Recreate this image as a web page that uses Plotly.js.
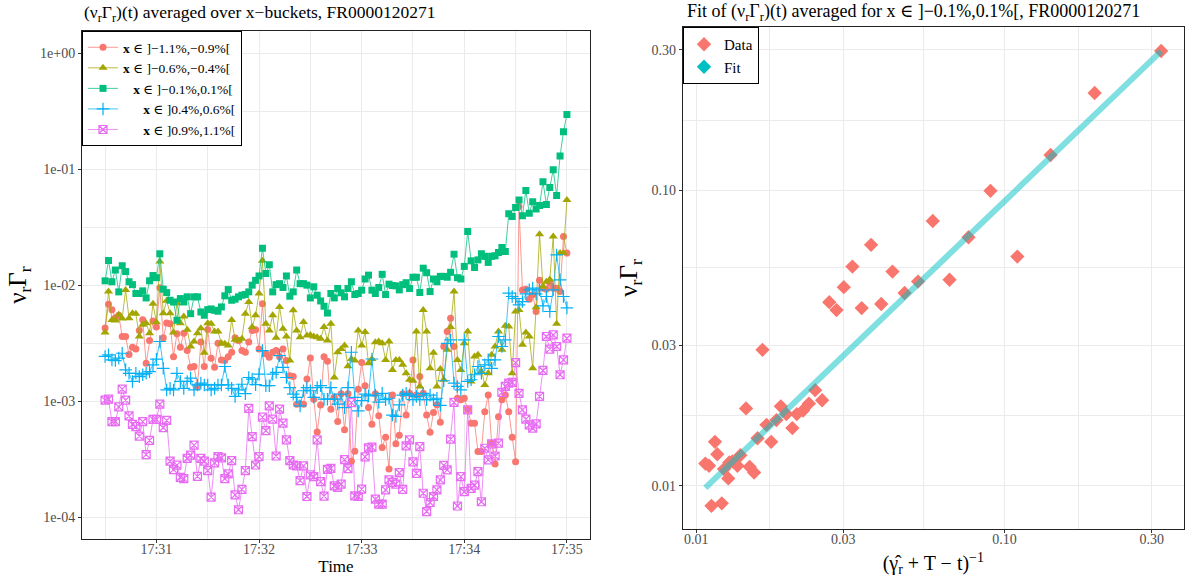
<!DOCTYPE html>
<html><head><meta charset="utf-8">
<script src="https://cdn.plot.ly/plotly-3.0.1.min.js"></script>
<style>html,body{margin:0;padding:0;background:#fff}#chart{width:1188px;height:583px}</style>
</head><body><div id="chart"></div>
<script>
// ---------- time axis (left panel): one sample every 2 s from 17:30:30 ----------
const dayStr = '2024-01-01';
const startTime = '17:30:30';
const stepSeconds = 2;
const nSamples = 136;

// ---------- left panel series (nu_r * Gamma_r) ----------
const seriesNames = ['x ∈ ]−1.1%,−0.9%[', 'x ∈ ]−0.6%,−0.4%[', 'x ∈ ]−0.1%,0.1%[', 'x ∈ ]0.4%,0.6%[', 'x ∈ ]0.9%,1.1%['];

const redVals = [0.00427,0.00684,0.00615,0.00525,0.00550,0.00361,0.00361,0.00252,0.00292,0.00282,
0.00407,0.00504,0.00212,0.00334,0.00491,0.00435,0.00948,0.00352,0.00471,0.00465,
0.00242,0.00381,0.00292,0.00386,0.00273,0.00196,0.00199,0.00133,0.00323,0.00199,
0.00415,0.00234,0.00196,0.00316,0.00226,0.00224,0.00242,0.00264,0.00352,0.00334,
0.00273,0.00264,0.00323,0.00407,0.00413,0.00282,0.00693,0.00256,0.00239,0.00264,
0.00273,0.00242,0.00282,0.00224,0.00166,0.00163,0.000942,0.000953,0.000942,0.00155,
0.00236,0.00104,0.000542,0.000929,0.00242,0.00221,0.000853,0.00108,0.000667,0.00116,
0.000568,0.00116,0.000304,0.000371,0.00127,0.00216,0.00136,0.000881,0.000632,0.00116,
0.00075,0.00040,0.00049,0.00026,0.00113,0.00043,0.00051,0.00116,0.00076,0.00117,
0.00227,0.00113,0.00163,0.00117,0.00076,0.00054,0.00080,0.00093,0.00066,0.00296,
0.00398,0.00519,0.00296,0.00106,0.00103,0.00106,0.00085,0.000646,0.000646,0.000368,
0.000368,0.000813,0.00113,0.000435,0.000288,0.000736,0.00103,0.00113,0.000813,0.000490,
0.000301,0.0476,0.00910,0.00923,0.00757,0.00825,0.00593,0.0110,0.00942,0.00923,
0.0104,0.00942,0.00942,0.00881,0.0262,0.0189];

const oliveVals = [0.00391,0.00881,0.00502,0.00496,0.00555,0.00516,0.00910,0.00519,0.00573,0.00566,
0.00361,0.00455,0.00470,0.00385,0.00690,0.00480,0.0160,0.00573,0.00733,0.00573,
0.00391,0.00700,0.00470,0.00537,0.00412,0.00296,0.00327,0.00385,0.00426,0.00262,
0.00470,0.00464,0.00398,0.00398,0.00316,0.00312,0.00302,0.00502,0.00338,0.00333,
0.00345,0.00567,0.00716,0.00435,0.00550,0.00847,0.0162,0.00465,0.00407,0.00550,
0.00352,0.00649,0.00421,0.00361,0.00224,0.00607,0.00407,0.00356,0.00481,0.00368,
0.00372,0.00361,0.00356,0.00345,0.00435,0.00334,0.00465,0.00160,0.00264,0.00282,
0.00302,0.00200,0.00231,0.00224,0.00407,0.00302,0.00394,0.00212,0.00231,0.00322,
0.00327,0.00316,0.00227,0.00327,0.00186,0.00227,0.00227,0.00206,0.00174,0.00153,
0.00150,0.00398,0.00134,0.00612,0.00398,0.00192,0.00262,0.00134,0.00189,0.00153,
0.00277,0.00435,0.00881,0.00227,0.00186,0.00316,0.00398,0.00148,0.00243,0.00251,
0.00180,0.00138,0.00174,0.00251,0.00296,0.00398,0.00277,0.00446,0.00440,0.00174,
0.00593,0.00612,0.00306,0.00391,0.00361,0.00192,0.00646,0.0275,0.00973,0.0107,
0.0112,0.0262,0.00464,0.0189,0.0189,0.0543];

const greenVals = [0.0109,0.0163,0.0107,0.0135,0.00875,0.0147,0.0131,0.0107,0.0101,0.00847,
0.00847,0.00893,0.00776,0.0109,0.0121,0.0116,0.0186,0.00923,0.00863,0.00741,
0.00716,0.00498,0.00766,0.00716,0.00793,0.00568,0.00793,0.00793,0.00587,0.00550,
0.00615,0.00624,0.00607,0.00596,0.00649,0.00809,0.00916,0.00741,0.00757,0.00793,
0.00819,0.00830,0.00875,0.0100,0.0110,0.0120,0.0208,0.0126,0.0150,0.00875,
0.0101,0.0103,0.00955,0.0120,0.00803,0.00875,0.0135,0.0103,0.0103,0.0100,
0.00776,0.00968,0.00819,0.00731,0.00658,0.00575,0.00847,0.00776,0.00936,0.00859,
0.00793,0.00936,0.0107,0.00830,0.00847,0.00905,0.0113,0.0122,0.00905,0.00847,
0.00955,0.0124,0.00830,0.0102,0.00993,0.00986,0.00910,0.0101,0.0105,0.00935,
0.0117,0.0117,0.00864,0.0140,0.0128,0.00881,0.0113,0.0107,0.0119,0.0119,
0.0117,0.0129,0.0185,0.0116,0.0113,0.0145,0.0290,0.0162,0.0142,0.0165,
0.0186,0.0177,0.0157,0.0177,0.0179,0.0191,0.0211,0.0195,0.0412,0.0391,
0.0467,0.0543,0.0396,0.0655,0.0417,0.0522,0.0452,0.0486,0.0778,0.0496,
0.0695,0.0986,0.0593,0.130,0.210,0.296];

const blueVals = [0.00243,0.00251,0.00227,0.00224,0.00235,0.00259,0.00186,0.00174,0.00148,0.00174,
0.00163,0.00169,0.00174,0.00180,0.00206,0.00230,0.00327,0.00192,0.00125,0.00129,
0.00125,0.00174,0.00148,0.00129,0.00148,0.00158,0.00125,0.00138,0.00143,0.00138,
0.00138,0.00125,0.00129,0.00138,0.00138,0.00199,0.00138,0.00129,0.00110,0.00125,
0.00140,0.00116,0.00160,0.00155,0.00139,0.00171,0.00273,0.00136,0.00136,0.00171,
0.00177,0.00247,0.00196,0.00160,0.00131,0.00115,0.00108,0.000912,0.00123,0.00131,
0.00123,0.00108,0.00131,0.00136,0.00104,0.00104,0.00131,0.00104,0.000942,0.00115,
0.000881,0.00131,0.00264,0.00108,0.000824,0.00101,0.00115,0.00111,0.00231,0.00113,
0.00098,0.00117,0.00103,0.00106,0.00076,0.00074,0.00093,0.00113,0.00117,0.00113,
0.00103,0.00110,0.00103,0.00117,0.00103,0.00113,0.00103,0.00106,0.00092,0.00150,
0.00315,0.00337,0.00143,0.00134,0.00125,0.00337,0.00148,0.00153,0.00169,0.00199,
0.00174,0.00206,0.00227,0.00192,0.00227,0.00361,0.00296,0.00337,0.00853,0.00798,
0.00767,0.00676,0.00722,0.00841,0.00912,0.00942,0.00841,0.00912,0.00663,0.00798,
0.00593,0.00912,0.0182,0.0111,0.00798,0.00637];

const magentaVals = [0.00102,0.00104,0.000667,0.000667,0.000893,0.00127,0.00102,0.000746,0.000632,0.000603,
0.000500,0.000667,0.000347,0.000459,0.000698,0.000698,0.000942,0.000591,0.000684,0.000304,
0.000257,0.000281,0.000221,0.000215,0.000321,0.000343,0.000418,0.000225,0.000321,0.000304,
0.000252,0.000149,0.000294,0.000333,0.000325,0.000215,0.000236,0.000308,0.000156,0.000116,
0.000174,0.000252,0.000869,0.000496,0.000282,0.000333,0.000728,0.000558,0.000912,0.000700,
0.000337,0.000853,0.000646,0.000464,0.000307,0.000282,0.000277,0.000207,0.000277,0.000151,
0.000232,0.000224,0.000464,0.000203,0.000152,0.000259,0.000264,0.000186,0.000181,0.000193,
0.000314,0.000262,0.000973,0.000153,0.000151,0.000175,0.000331,0.000396,0.000402,0.000143,
0.000130,0.000130,0.000172,0.000210,0.000200,0.000193,0.000242,0.000174,0.000412,0.000464,
0.000300,0.000239,0.000406,0.000161,0.000112,0.000134,0.000151,0.000172,0.000210,0.000280,
0.000256,0.000471,0.000976,0.000125,0.000224,0.000166,0.000842,0.000177,0.000189,0.000247,
0.000136,0.000393,0.000312,0.000429,0.000337,0.000435,0.00119,0.00134,0.00143,0.00145,
0.00215,0.00117,0.000842,0.000700,0.000624,0.000585,0.000637,0.00110,0.00184,0.00361,
0.00281,0.00373,0.00296,0.00169,0.00227,0.00349];

// ---------- left panel tick labels ----------
const leftYTickVals = [1e-4, 1e-3, 1e-2, 1e-1, 1];
const leftYTickText = ['1e-04', '1e-03', '1e-02', '1e-01', '1e+00'];
const leftYMinorVals = [0.0003162, 0.003162, 0.03162, 0.3162];
const leftXTickTimes = ['17:31:00', '17:32:00', '17:33:00', '17:34:00', '17:35:00'];
const leftXTickText = ['17:31', '17:32', '17:33', '17:34', '17:35'];
const leftXMinorTimes = ['17:30:30', '17:31:30', '17:32:30', '17:33:30', '17:34:30'];

// ---------- right panel (fit for x in ]-0.1%,0.1%[) ----------
const fitDataX = [0.322,0.196,0.141,0.0900,0.110,0.0764,0.0585,0.0663,0.0524,0.0474,
0.0433,0.0369,0.0321,0.0301,0.0270,0.0398,0.0344,0.0285,0.0164,0.0243,
0.0256,0.0232,0.0222,0.0212,0.0196,0.0188,0.0205,0.0182,0.0169,0.0175,
0.0158,0.0145,0.0139,0.0149,0.0154,0.0136,0.0131,0.0128,0.0123,0.0127,
0.0117,0.0115,0.0107,0.0110,0.0112,0.0121];
const fitDataY = [0.297,0.214,0.132,0.0998,0.0598,0.0695,0.0789,0.0499,0.0492,0.0450,
0.0532,0.0655,0.0553,0.0471,0.0419,0.0413,0.0400,0.0394,0.0289,0.0211,
0.0195,0.0190,0.0180,0.0175,0.0175,0.0186,0.0157,0.0167,0.0161,0.0141,
0.0145,0.0183,0.0127,0.0116,0.0111,0.0117,0.0121,0.0120,0.0114,0.0106,
0.0128,0.0141,0.0119,0.0117,0.00856,0.00873];
const fitLineX = [0.0107, 0.322];
const fitLineY = [0.00985, 0.2966];
const rightTickVals = [0.01, 0.03, 0.10, 0.30];
const rightTickText = ['0.01', '0.03', '0.10', '0.30'];
const rightMinorVals = [0.01732, 0.05477, 0.1732];

// ---------- helpers ----------
function pad(n){ return (n < 10 ? '0' : '') + n; }
function buildTimes(){
  const p = startTime.split(':').map(Number);
  const base = p[0]*3600 + p[1]*60 + p[2];
  const out = [];
  for (let i = 0; i < nSamples; i++) {
    const t = base + i*stepSeconds;
    out.push(dayStr + ' ' + pad(Math.floor(t/3600)) + ':' + pad(Math.floor((t%3600)/60)) + ':' + pad(t%60));
  }
  return out;
}
const times = buildTimes();
const withDay = arr => arr.map(t => dayStr + ' ' + t);

const FONT = 'Liberation Serif, DejaVu Serif, serif';
const colors = ['#F8766D', '#A3A500', '#00BF7D', '#00B0F6', '#E76BF3'];
const lineColors = ['rgba(248,118,109,0.75)', 'rgba(163,165,0,0.75)', 'rgba(0,191,125,0.75)', 'rgba(0,176,246,0.75)', 'rgba(231,107,243,0.75)'];
const symbols = ['circle', 'triangle-up', 'square', 'cross-thin-open', 'square-x-open'];
const sizes = [7, 8, 7, 9, 8];
const padding = ['', '', '\u00a0\u00a0\u00a0', '\u00a0\u00a0\u00a0\u00a0\u00a0\u00a0', '\u00a0\u00a0\u00a0\u00a0\u00a0\u00a0'];
const allVals = [redVals, oliveVals, greenVals, blueVals, magentaVals];

const traces = allVals.map((vals, k) => ({
  type: 'scatter', mode: 'lines+markers', x: times, y: vals,
  name: padding[k] + seriesNames[k].replace(/^x/, '<b>x</b>'),
  line: {color: lineColors[k], width: 1},
  marker: {symbol: symbols[k], size: sizes[k], color: colors[k], line: {color: colors[k], width: (k >= 3 ? 1.2 : 0)}},
  xaxis: 'x', yaxis: 'y', legend: 'legend'
}));

traces.push({
  type: 'scatter', mode: 'markers', x: fitDataX, y: fitDataY, name: 'Data',
  marker: {symbol: 'diamond', size: 11, color: '#F8766D'},
  xaxis: 'x2', yaxis: 'y2', legend: 'legend2'
});
traces.push({
  type: 'scatter', mode: 'lines', x: fitLineX, y: fitLineY, name: 'Fit', showlegend: false,
  line: {color: 'rgba(0,191,196,0.5)', width: 6},
  xaxis: 'x2', yaxis: 'y2', legend: 'legend2'
});
traces.push({
  type: 'scatter', mode: 'markers', x: [null], y: [null], name: 'Fit',
  marker: {symbol: 'diamond', size: 11, color: '#00BFC4'},
  xaxis: 'x2', yaxis: 'y2', legend: 'legend2'
});

const W = 1188, H = 583;
const gridC = '#EBEBEB';
const tickFont = {family: FONT, size: 14, color: '#4D4D4D'};
const axisCommon = {
  showgrid: true, gridcolor: gridC, gridwidth: 1, zeroline: false,
  ticks: 'outside', ticklen: 3, tickcolor: '#333333', tickwidth: 1,
  showline: true, linecolor: '#222222', linewidth: 1, mirror: true,
  tickfont: tickFont, automargin: false
};

const layout = {
  width: W, height: H,
  margin: {l: 0, r: 0, t: 0, b: 0},
  paper_bgcolor: '#ffffff', plot_bgcolor: '#ffffff',
  font: {family: FONT, color: '#000'},
  xaxis: Object.assign({}, axisCommon, {
    type: 'date', domain: [82/W, 590/W], anchor: 'y',
    range: [dayStr + ' 17:30:16.5', dayStr + ' 17:35:13.5'],
    tickmode: 'array', tickvals: withDay(leftXTickTimes), ticktext: leftXTickText,
    ticklabelstandoff: -6,
    minor: {tickmode: 'array', tickvals: withDay(leftXMinorTimes), showgrid: true, gridcolor: gridC, ticks: ''},
    title: {text: 'Time', font: {family: FONT, size: 17, color: '#000'}, standoff: 4}
  }),
  yaxis: Object.assign({}, axisCommon, {
    type: 'log', domain: [1 - 539.3/H, 1 - 31/H], anchor: 'x',
    range: [-4.19, 0.19],
    tickmode: 'array', tickvals: leftYTickVals, ticktext: leftYTickText,
    minor: {tickmode: 'array', tickvals: leftYMinorVals, showgrid: true, gridcolor: gridC, ticks: ''},
    title: {text: 'ν<sub>r</sub>Γ<sub>r</sub>', font: {family: FONT, size: 25, color: '#000'}, standoff: 6}
  }),
  xaxis2: Object.assign({}, axisCommon, {
    type: 'log', domain: [682.7/W, 1184/W], anchor: 'y2',
    range: [-2.044, -0.418],
    tickmode: 'array', tickvals: rightTickVals, ticktext: rightTickText,
    ticklabelstandoff: -6,
    minor: {tickmode: 'array', tickvals: rightMinorVals, showgrid: true, gridcolor: gridC, ticks: ''},
    title: {text: '(γ\u0302<sub>r</sub> + T − t)<sup>−1</sup>', font: {family: FONT, size: 20, color: '#000'}, standoff: 10}
  }),
  yaxis2: Object.assign({}, axisCommon, {
    type: 'log', domain: [1 - 529/H, 1 - 27/H], anchor: 'x2',
    range: [-2.146, -0.446],
    tickmode: 'array', tickvals: rightTickVals, ticktext: rightTickText,
    minor: {tickmode: 'array', tickvals: rightMinorVals, showgrid: true, gridcolor: gridC, ticks: ''},
    title: {text: 'ν<sub>r</sub>Γ<sub>r</sub>', font: {family: FONT, size: 25, color: '#000'}, standoff: 6}
  }),
  legend: {
    x: 82/W, y: 1 - 31/H, xanchor: 'left', yanchor: 'top',
    bgcolor: '#ffffff', bordercolor: '#000000', borderwidth: 1,
    font: {family: FONT, size: 13.5, color: '#000'}, itemwidth: 30, tracegroupgap: 0
  },
  legend2: {
    x: 683/W, y: 1 - 27/H, xanchor: 'left', yanchor: 'top',
    bgcolor: '#ffffff', bordercolor: '#000000', borderwidth: 1,
    font: {family: FONT, size: 15, color: '#000'}, itemwidth: 30, tracegroupgap: 0
  },
  annotations: [
    {text: '(ν<sub>r</sub>Γ<sub>r</sub>)(t) averaged over x−buckets, FR0000120271', xref: 'paper', yref: 'paper',
     x: 82/W, y: 1 - 13/H, xanchor: 'left', yanchor: 'middle', showarrow: false,
     font: {family: FONT, size: 17.5, color: '#000'}},
    {text: 'Fit of (ν<sub>r</sub>Γ<sub>r</sub>)(t) averaged for x ∈ ]−0.1%,0.1%[, FR0000120271', xref: 'paper', yref: 'paper',
     x: 685/W, y: 1 - 12/H, xanchor: 'left', yanchor: 'middle', showarrow: false,
     font: {family: FONT, size: 18, color: '#000'}}
  ],
  showlegend: true
};

Plotly.newPlot('chart', traces, layout, {displayModeBar: false, staticPlot: true});
</script>
</body></html>
